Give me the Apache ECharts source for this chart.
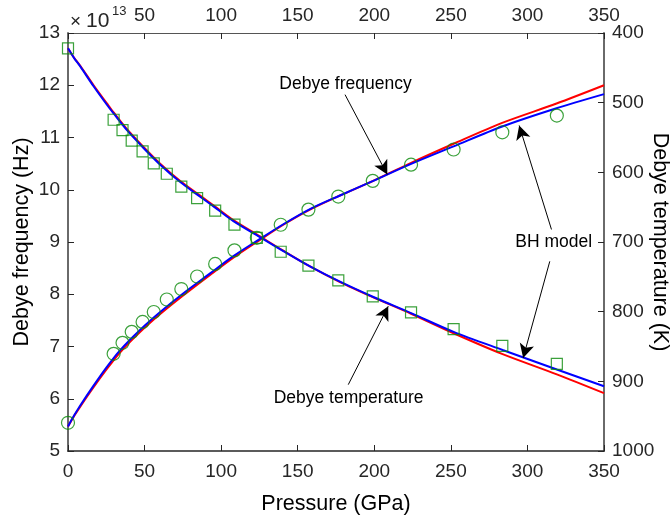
<!DOCTYPE html>
<html><head><meta charset="utf-8">
<script src="https://cdn.jsdelivr.net/npm/echarts@6/dist/echarts.min.js"></script>
<style>html,body{margin:0;padding:0;background:#fff}#chart{width:670px;height:517px}</style>
</head><body><div id="chart"></div>
<script>
// Measured data points (pressure in GPa)
const dataPressure = [0, 29.8, 35.6, 41.6, 48.7, 56.0, 64.5, 74.0, 84.3, 96.1, 108.7, 123.3, 138.9, 157.0, 176.5, 199.0, 224.0, 251.8, 283.6, 319.2];
const dataFrequency = [5.54, 6.86, 7.07, 7.28, 7.47, 7.66, 7.90, 8.10, 8.34, 8.58, 8.84, 9.08, 9.33, 9.62, 9.87, 10.17, 10.48, 10.77, 11.10, 11.42]; // x1e13 Hz
const dataTemperature = [422, 524.5, 539.5, 554.5, 570, 587, 602, 620.5, 637, 655, 675, 694, 714, 734, 755, 778, 801, 825, 849, 875]; // K

// Model curves: Debye frequency (x1e13 Hz)
const freqCurveP = [0, 2, 4, 8, 16.7, 25.4, 34.1, 47.2, 60.2, 75.4, 92.8, 108, 125.4, 140.6, 158, 177.6, 199.3, 223.7, 251.8, 283.5, 319, 350];
const freqBH =  [5.47, 5.58, 5.68, 5.87, 6.25, 6.61, 6.93, 7.32, 7.66, 8.02, 8.40, 8.73, 9.06, 9.34, 9.63, 9.89, 10.17, 10.49, 10.83, 11.21, 11.56, 11.83];
const freqRed = [5.47, 5.57, 5.67, 5.85, 6.22, 6.57, 6.89, 7.28, 7.62, 7.98, 8.37, 8.70, 9.04, 9.33, 9.62, 9.89, 10.17, 10.51, 10.88, 11.28, 11.65, 12.00];

// Model curves: Debye temperature (K)
const tempCurveP = [0, 2, 4, 8, 16.7, 25.4, 29.8, 38.5, 49.3, 60.2, 73.3, 86.3, 97.2, 108, 125.4, 140.6, 158, 177.6, 199.4, 224, 251.8, 283.8, 319.2, 350];
const tempBH =  [422, 429, 436, 448, 476.5, 503, 515.5, 539.5, 565, 589, 614, 635, 652.5, 670, 693, 713, 735, 757, 779, 802, 829, 855, 883, 907];
const tempRed = [422, 429, 435.5, 447, 475, 501, 514, 538, 563.5, 587.5, 612.5, 633.5, 651, 668.5, 692, 712.5, 735, 757.5, 779.5, 803, 831, 861, 890, 917];

// Axis ticks
const xTicks = [0, 50, 100, 150, 200, 250, 300, 350];
const leftTicks = [5, 6, 7, 8, 9, 10, 11, 12, 13];
const rightTicks = [400, 500, 600, 700, 800, 900, 1000];

// Annotations (data coords on left axis)
const annotationTexts = [
  {text: 'Debye frequency', at: [181.2, 12.03]},
  {text: 'BH model', at: [317.2, 8.99]},
  {text: 'Debye temperature', at: [183.2, 6.02]}
];
const annotationArrows = [
  [[180.9, 11.82], [208.5, 10.29]],
  [[315.7, 9.24], [294.6, 11.23]],
  [[314.6, 8.63], [297.2, 6.78]],
  [[183.0, 6.27], [209.1, 7.77]]
];

const zip = (a, b) => a.map((v, i) => [v, b[i]]);
const FONT = 'Liberation Sans, Arial, Helvetica, sans-serif';
const GREEN = '#0a8a0a';

const chart = echarts.init(document.getElementById('chart'), null, {renderer: 'canvas'});

const xBase = {
  type: 'value', min: xTicks[0], max: xTicks[xTicks.length - 1], interval: 50,
  splitLine: {show: false},
  axisTick: {inside: true, length: 6, lineStyle: {color: '#262626'}},
  axisLabel: {fontSize: 19, color: '#262626', fontFamily: FONT}
};

chart.setOption({
  animation: false,
  textStyle: {fontFamily: FONT},
  grid: {left: 68, right: 66, top: 33, bottom: 66, containLabel: false, outerBoundsMode: 'none'},
  xAxis: [
    Object.assign({}, xBase, {
      position: 'bottom',
      name: 'Pressure (GPa)', nameLocation: 'middle', nameGap: 42, nameMoveOverlap: false,
      nameTextStyle: {fontSize: 21.5, color: '#000', fontFamily: FONT},
      axisLine: {onZero: false, lineStyle: {color: '#262626', width: 1.5}},
      axisLabel: Object.assign({}, xBase.axisLabel, {margin: 11})
    }),
    Object.assign({}, xBase, {
      position: 'top',
      axisLine: {onZero: false, lineStyle: {color: '#555', width: 1}},
      axisLabel: Object.assign({}, xBase.axisLabel, {margin: 8, formatter: v => v === 0 ? '' : String(v)})
    })
  ],
  yAxis: [
    {
      type: 'value', position: 'left', min: leftTicks[0], max: leftTicks[leftTicks.length - 1], interval: 1,
      name: 'Debye frequency (Hz)', nameLocation: 'middle', nameGap: 35, nameMoveOverlap: false,
      nameTextStyle: {fontSize: 21.5, color: '#000', fontFamily: FONT},
      splitLine: {show: false},
      axisLine: {show: true, onZero: false, lineStyle: {color: '#6a6a6a', width: 2}},
      axisTick: {show: true, inside: true, length: 6, lineStyle: {color: '#262626'}},
      axisLabel: {fontSize: 19, color: '#262626', margin: 8, fontFamily: FONT}
    },
    {
      type: 'value', position: 'right', inverse: true,
      min: rightTicks[0], max: rightTicks[rightTicks.length - 1], interval: 100,
      name: 'Debye temperature (K)', nameLocation: 'middle', nameGap: 45, nameRotate: -90, nameMoveOverlap: false,
      nameTextStyle: {fontSize: 21.5, color: '#000', fontFamily: FONT},
      splitLine: {show: false},
      axisLine: {show: true, onZero: false, lineStyle: {color: '#6a6a6a', width: 2}},
      axisTick: {show: true, inside: true, length: 6, lineStyle: {color: '#262626'}},
      axisLabel: {fontSize: 19, color: '#262626', margin: 8, fontFamily: FONT, formatter: v => String(v)}
    }
  ],
  graphic: [
    {type: 'text', left: 70, top: 12, style: {text: '×', fontSize: 19, fontFamily: FONT, fill: '#262626'}},
    {type: 'text', left: 86, top: 11, style: {text: '10', fontSize: 21, fontFamily: FONT, fill: '#262626'}},
    {type: 'text', left: 112, top: 5, style: {text: '13', fontSize: 13, fontFamily: FONT, fill: '#262626'}}
  ],
  series: [
    {
      type: 'line', name: 'freqRed', xAxisIndex: 0, yAxisIndex: 0,
      data: zip(freqCurveP, freqRed), showSymbol: false, smooth: 0.3,
      lineStyle: {color: '#ff0000', width: 2}, z: 2, silent: true,
      markLine: {
        silent: true, symbol: ['none', 'arrow'], symbolSize: [11, 14],
        label: {show: false},
        lineStyle: {color: '#000', width: 1, type: 'solid'},
        data: annotationArrows.map(a => [{coord: a[0]}, {coord: a[1]}])
      },
      markPoint: {
        silent: true, symbol: 'circle', symbolSize: 0,
        label: {show: true, position: 'inside', fontSize: 17.5, color: '#000', fontFamily: FONT, formatter: p => p.name},
        data: annotationTexts.map(t => ({name: t.text, coord: t.at}))
      }
    },
    {
      type: 'line', name: 'tempRed', xAxisIndex: 0, yAxisIndex: 1,
      data: zip(tempCurveP, tempRed), showSymbol: false, smooth: 0.3,
      lineStyle: {color: '#ff0000', width: 2}, z: 2, silent: true
    },
    {
      type: 'line', name: 'freqBH', xAxisIndex: 0, yAxisIndex: 0,
      data: zip(freqCurveP, freqBH), showSymbol: false, smooth: 0.3,
      lineStyle: {color: '#0000ff', width: 2}, z: 3, silent: true
    },
    {
      type: 'line', name: 'tempBH', xAxisIndex: 0, yAxisIndex: 1,
      data: zip(tempCurveP, tempBH), showSymbol: false, smooth: 0.3,
      lineStyle: {color: '#0000ff', width: 2}, z: 3, silent: true
    },
    {
      type: 'scatter', name: 'freqData', xAxisIndex: 0, yAxisIndex: 0,
      data: zip(dataPressure, dataFrequency), symbol: 'circle', symbolSize: 13,
      itemStyle: {color: 'rgba(0,0,0,0)', borderColor: GREEN, borderWidth: 1.2}, z: 4, silent: true
    },
    {
      type: 'scatter', name: 'tempData', xAxisIndex: 0, yAxisIndex: 1,
      data: zip(dataPressure, dataTemperature), symbol: 'rect', symbolSize: 11,
      itemStyle: {color: 'rgba(0,0,0,0)', borderColor: GREEN, borderWidth: 1.2}, z: 4, silent: true
    }
  ]
});
</script></body></html>
